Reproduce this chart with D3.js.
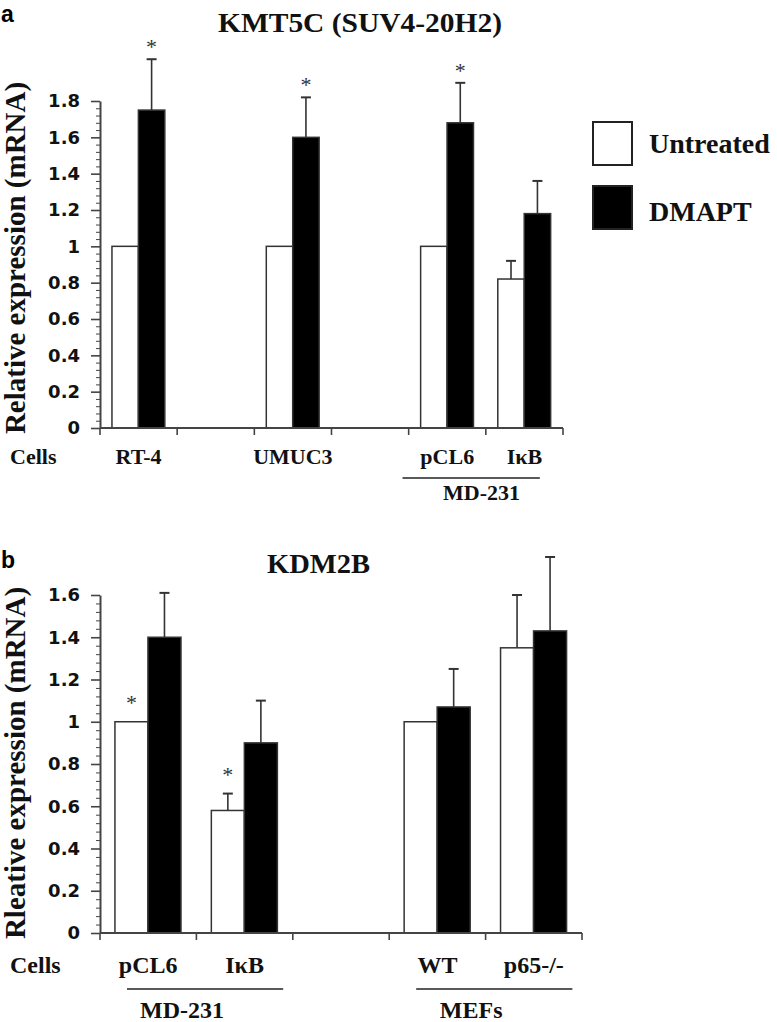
<!DOCTYPE html>
<html>
<head>
<meta charset="utf-8">
<script src="https://cdn.jsdelivr.net/npm/d3@7/dist/d3.min.js"></script>
<style>
  html, body { margin: 0; padding: 0; background: #fff; }
  svg { display: block; }
</style>
</head>
<body>
<script>
// ---------------- DATA ----------------
// Panel a: KMT5C (SUV4-20H2)
const catsA        = ["RT-4", "gapA1", "UMUC3", "gapA2", "pCL6", "IκB"];
const catLabelsA   = ["RT-4", "", "UMUC3", "", "pCL6", "IκB"];
const untreatedA   = [1.00, null, 1.00, null, 1.00, 0.82];
const untreatedErrA= [0,    null, 0,    null, 0,    0.10];
const dmaptA       = [1.75, null, 1.60, null, 1.68, 1.18];
const dmaptErrA    = [0.28, null, 0.22, null, 0.22, 0.18];
const starsA       = ["DMAPT", null, "DMAPT", null, "DMAPT", null];
const yTicksA      = [0, 0.2, 0.4, 0.6, 0.8, 1, 1.2, 1.4, 1.6, 1.8];
const yTickLabelsA = ["0", "0.2", "0.4", "0.6", "0.8", "1", "1.2", "1.4", "1.6", "1.8"];
const groupsA      = [{ label: "MD-231", from: "pCL6", to: "IκB" }];

// Panel b: KDM2B
const catsB        = ["pCL6", "IκB", "gapB1", "WT", "p65-/-"];
const catLabelsB   = ["pCL6", "IκB", "", "WT", "p65-/-"];
const untreatedB   = [1.00, 0.58, null, 1.00, 1.35];
const untreatedErrB= [0,    0.08, null, 0,    0.25];
const dmaptB       = [1.40, 0.90, null, 1.07, 1.43];
const dmaptErrB    = [0.21, 0.20, null, 0.18, 0.35];
const starsB       = ["Untreated", "Untreated", null, null, null];
const yTicksB      = [0, 0.2, 0.4, 0.6, 0.8, 1, 1.2, 1.4, 1.6];
const yTickLabelsB = ["0", "0.2", "0.4", "0.6", "0.8", "1", "1.2", "1.4", "1.6"];
const groupsB      = [{ label: "MD-231", from: "pCL6", to: "IκB" }, { label: "MEFs", from: "WT", to: "p65-/-" }];

const seriesNames  = ["Untreated", "DMAPT"];
const seriesFill   = ["#ffffff", "#000000"];

// ---------------- DRAWING ----------------
const W = 777, H = 1022;
const svg = d3.select("body").append("svg").attr("width", W).attr("height", H);
svg.append("rect").attr("width", W).attr("height", H).attr("fill", "#fff");

const SERIF = "'Liberation Serif', 'Times New Roman', serif";
const SANS = "'Liberation Sans', Arial, sans-serif";
const AXIS = "#444";

function drawPanel(cfg) {
  const g = svg.append("g");
  const x = d3.scaleBand().domain(cfg.cats).range([cfg.x0, cfg.x1]).padding(0);
  const bw = x.bandwidth();
  const xs = d3.scaleBand().domain(seriesNames).range([bw * 0.155, bw * 0.84]).padding(0);
  const y = d3.scaleLinear().domain([0, cfg.yMax]).range([cfg.yBottom, cfg.yTop]);

  const rows = cfg.cats.map((c, i) => ({
    cat: c,
    vals: [
      { s: "Untreated", v: cfg.untreated[i], e: cfg.untreatedErr[i], fill: seriesFill[0] },
      { s: "DMAPT", v: cfg.dmapt[i], e: cfg.dmaptErr[i], fill: seriesFill[1] }
    ],
    star: cfg.stars[i]
  })).filter(r => r.vals[0].v !== null);

  // error bars
  const eb = g.append("g");
  rows.forEach(r => r.vals.forEach(d => {
    if (!d.e) return;
    const cx = x(r.cat) + xs(d.s) + xs.bandwidth() / 2;
    eb.append("line").attr("x1", cx).attr("x2", cx)
      .attr("y1", y(d.v)).attr("y2", y(d.v + d.e))
      .attr("stroke", "#333").attr("stroke-width", 1.6);
    eb.append("line").attr("x1", cx - 5).attr("x2", cx + 5)
      .attr("y1", y(d.v + d.e)).attr("y2", y(d.v + d.e))
      .attr("stroke", "#333").attr("stroke-width", 2);
  }));

  // bars
  const bars = g.append("g");
  rows.forEach(r => r.vals.forEach(d => {
    bars.append("rect")
      .attr("x", x(r.cat) + xs(d.s))
      .attr("y", y(d.v))
      .attr("width", xs.bandwidth())
      .attr("height", y(0) - y(d.v))
      .attr("fill", d.fill)
      .attr("stroke", "#333")
      .attr("stroke-width", 1.5);
  }));

  // stars
  rows.forEach(r => {
    if (!r.star) return;
    const d = r.vals.find(v => v.s === r.star);
    const cx = x(r.cat) + xs(d.s) + xs.bandwidth() / 2;
    const top = y(d.v + (d.e || 0));
    g.append("text").attr("x", cx).attr("y", top - cfg.starOffset + 10)
      .attr("text-anchor", "middle")
      .attr("font-family", SERIF).attr("font-size", 22).attr("fill", "#333")
      .text("*");
  });

  // y axis: minor ticks
  const minor = d3.range(0, cfg.yMax + 1e-9, 0.04).filter(v => Math.abs(v / 0.2 - Math.round(v / 0.2)) > 1e-6);
  g.append("g").attr("transform", `translate(${cfg.x0},0)`)
    .call(d3.axisLeft(y).tickValues(minor).tickSize(4).tickFormat(""))
    .call(a => a.select(".domain").remove())
    .call(a => a.selectAll("line").attr("stroke", AXIS).attr("stroke-width", 1));
  // major ticks
  const yAxis = g.append("g").attr("transform", `translate(${cfg.x0},0)`)
    .call(d3.axisLeft(y).tickValues(cfg.yTicks).tickSize(9).tickSizeOuter(0).tickPadding(11)
      .tickFormat((d, i) => cfg.yTickLabels[i]));
  yAxis.select(".domain").attr("stroke", AXIS).attr("stroke-width", 2);
  yAxis.selectAll(".tick line").attr("stroke", AXIS).attr("stroke-width", 1.6);
  yAxis.selectAll(".tick text").attr("font-family", "'DejaVu Sans', sans-serif")
    .attr("font-weight", "bold").attr("font-size", 18).attr("fill", "#111");

  // x axis baseline + ticks at band boundaries
  g.append("line").attr("x1", cfg.x0).attr("x2", cfg.x1)
    .attr("y1", y(0)).attr("y2", y(0)).attr("stroke", AXIS).attr("stroke-width", 2);
  const bounds = cfg.cats.map(c => x(c)).concat([x.range()[1]]);
  g.selectAll(null).data(bounds).enter().append("line")
    .attr("x1", d => d).attr("x2", d => d)
    .attr("y1", y(0)).attr("y2", y(0) + 7)
    .attr("stroke", AXIS).attr("stroke-width", 1.6);

  // category labels
  g.append("text").attr("x", 10).attr("y", cfg.catLabelY)
    .attr("font-family", SERIF).attr("font-weight", "bold").attr("font-size", cfg.catFont)
    .attr("fill", "#111").text("Cells");
  cfg.cats.forEach((c, i) => {
    if (!cfg.catLabels[i]) return;
    g.append("text").attr("x", x(c) + bw / 2).attr("y", cfg.catLabelY)
      .attr("text-anchor", "middle")
      .attr("font-family", SERIF).attr("font-weight", "bold").attr("font-size", cfg.catFont)
      .attr("fill", "#111").text(cfg.catLabels[i]);
  });

  // group lines
  cfg.groups.forEach(gr => {
    const xa = x(gr.from) + cfg.groupStart * bw;
    const xb = x(gr.to) + cfg.groupEnd * bw;
    g.append("line").attr("x1", xa).attr("x2", xb)
      .attr("y1", cfg.groupLineY).attr("y2", cfg.groupLineY)
      .attr("stroke", "#222").attr("stroke-width", 1.6);
    g.append("text").attr("x", xa + cfg.groupLabelOffset).attr("y", cfg.groupLabelY)
      .attr("text-anchor", "middle")
      .attr("font-family", SERIF).attr("font-weight", "bold").attr("font-size", cfg.catFont)
      .attr("fill", "#111").text(gr.label);
  });

  // title
  g.append("text").attr("x", cfg.titleX).attr("y", cfg.titleY)
    .attr("font-family", SERIF).attr("font-weight", "bold").attr("font-size", 27)
    .attr("textLength", cfg.titleLen).attr("lengthAdjust", "spacingAndGlyphs")
    .attr("fill", "#111").text(cfg.title);

  // y label
  g.append("text").attr("transform", `translate(25,${cfg.yLabelCenter}) rotate(-90)`)
    .attr("text-anchor", "middle")
    .attr("font-family", SERIF).attr("font-weight", "bold").attr("font-size", 29)
    .attr("fill", "#111").text(cfg.yLabel);

  // panel letter
  g.append("text").attr("x", 1).attr("y", cfg.letterY)
    .attr("font-family", SANS).attr("font-weight", "bold").attr("font-size", 23)
    .attr("fill", "#000").text(cfg.letter);
}

drawPanel({
  cats: catsA, catLabels: catLabelsA,
  untreated: untreatedA, untreatedErr: untreatedErrA,
  dmapt: dmaptA, dmaptErr: dmaptErrA, stars: starsA,
  yTicks: yTicksA, yTickLabels: yTickLabelsA, yMax: 1.8,
  x0: 100, x1: 563, yTop: 101, yBottom: 428,
  starOffset: 15,
  catLabelY: 464, catFont: 22,
  groups: groupsA, groupStart: -0.08, groupEnd: 0.7, groupLineY: 478, groupLabelY: 500, groupLabelOffset: 79,
  title: "KMT5C (SUV4-20H2)", titleX: 218, titleY: 32, titleLen: 284,
  yLabel: "Relative expression (mRNA)", yLabelCenter: 258,
  letter: "a", letterY: 22
});

drawPanel({
  cats: catsB, catLabels: catLabelsB,
  untreated: untreatedB, untreatedErr: untreatedErrB,
  dmapt: dmaptB, dmaptErr: dmaptErrB, stars: starsB,
  yTicks: yTicksB, yTickLabels: yTickLabelsB, yMax: 1.6,
  x0: 100, x1: 582, yTop: 595, yBottom: 933,
  starOffset: 22,
  catLabelY: 973, catFont: 24,
  groups: groupsB, groupStart: 0.28, groupEnd: 0.9, groupLineY: 989, groupLabelY: 1018, groupLabelOffset: 55,
  title: "KDM2B", titleX: 267, titleY: 573, titleLen: 103,
  yLabel: "Rleative expression (mRNA)", yLabelCenter: 763,
  letter: "b", letterY: 568
});

// legend
const legend = svg.append("g");
seriesNames.forEach((s, i) => {
  legend.append("rect").attr("x", 593).attr("y", 122 + i * 64)
    .attr("width", 39).attr("height", 43)
    .attr("fill", seriesFill[i]).attr("stroke", "#222").attr("stroke-width", 2);
  legend.append("text").attr("x", 649).attr("y", 153 + i * 68)
    .attr("font-family", SERIF).attr("font-weight", "bold").attr("font-size", 28)
    .attr("fill", "#111").text(s);
});
</script>
</body>
</html>
